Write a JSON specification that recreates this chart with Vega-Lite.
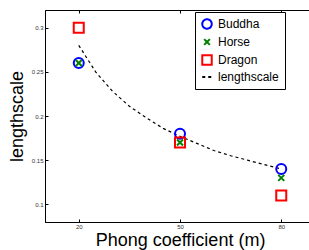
{
  "$schema": "https://vega.github.io/schema/vega-lite/v6.json",
  "width": 270,
  "height": 212,
  "autosize": {"type": "none"},
  "padding": {"left": 45, "top": 10, "right": 0, "bottom": 28},
  "background": "white",
  "config": {
    "view": {"stroke": "black", "strokeWidth": 1},
    "font": "Liberation Sans",
    "axis": {
      "grid": false,
      "domainColor": "black",
      "tickColor": "black",
      "tickSize": -3,
      "labelFontSize": 6,
      "labelColor": "#333333",
      "titleFont": "Liberation Sans",
      "titleFontSize": 18,
      "titleFontWeight": "normal",
      "titleColor": "black"
    }
  },
  "resolve": {"axis": {"x": "independent"}},
  "datasets": {
    "pts": [
      {"m": 20, "value": 0.26, "series": "Buddha"},
      {"m": 50, "value": 0.18, "series": "Buddha"},
      {"m": 80, "value": 0.14, "series": "Buddha"},
      {"m": 20, "value": 0.26, "series": "Horse"},
      {"m": 50, "value": 0.17, "series": "Horse"},
      {"m": 80, "value": 0.13, "series": "Horse"},
      {"m": 20, "value": 0.30, "series": "Dragon"},
      {"m": 50, "value": 0.17, "series": "Dragon"},
      {"m": 80, "value": 0.11, "series": "Dragon"}
    ],
    "curve": [
      {"m": 20, "value": 0.280, "series": "lengthscale"},
      {"m": 25, "value": 0.250, "series": "lengthscale"},
      {"m": 30, "value": 0.228, "series": "lengthscale"},
      {"m": 35, "value": 0.211, "series": "lengthscale"},
      {"m": 40, "value": 0.198, "series": "lengthscale"},
      {"m": 45, "value": 0.186, "series": "lengthscale"},
      {"m": 50, "value": 0.177, "series": "lengthscale"},
      {"m": 55, "value": 0.169, "series": "lengthscale"},
      {"m": 60, "value": 0.161, "series": "lengthscale"},
      {"m": 65, "value": 0.155, "series": "lengthscale"},
      {"m": 70, "value": 0.150, "series": "lengthscale"},
      {"m": 75, "value": 0.145, "series": "lengthscale"},
      {"m": 80, "value": 0.140, "series": "lengthscale"}
    ]
  },
  "layer": [
    {
      "data": {"name": "curve"},
      "mark": {"type": "line", "strokeWidth": 1.2},
      "encoding": {
        "x": {
          "field": "m", "type": "quantitative",
          "scale": {"domain": [10, 90], "nice": false, "zero": false},
          "axis": {"values": [20, 50, 80], "title": "Phong coefficient (m)", "labelPadding": 4, "titlePadding": 2}
        },
        "y": {
          "field": "value", "type": "quantitative",
          "scale": {"domain": [0.08, 0.32], "nice": false, "zero": false},
          "axis": {"values": [0.1, 0.15, 0.2, 0.25, 0.3], "format": "~g", "title": "lengthscale", "labelPadding": 5, "titlePadding": 5}
        },
        "color": {
          "field": "series", "type": "nominal",
          "scale": {"domain": ["Buddha", "Horse", "Dragon", "lengthscale"], "range": ["#0000ff", "#008000", "#ff0000", "black"]},
          "legend": {
            "title": null,
            "orient": "none",
            "legendX": 150,
            "legendY": 2,
            "strokeColor": "black",
            "fillColor": "white",
            "padding": 6,
            "labelFontSize": 12,
            "labelColor": "black",
            "labelFont": "Liberation Sans",
            "symbolSize": 90,
            "symbolStrokeWidth": 2,
            "rowPadding": 2,
            "labelOffset": 5
          }
        },
        "strokeDash": {
          "field": "series", "type": "nominal",
          "scale": {"domain": ["Buddha", "Horse", "Dragon", "lengthscale"], "range": [[1, 0], [1, 0], [1, 0], [3, 3]]},
          "legend": {
            "title": null,
            "orient": "none",
            "legendX": 150,
            "legendY": 2
          }
        }
      }
    },
    {
      "data": {"name": "pts"},
      "mark": {"type": "point", "filled": false, "strokeWidth": 2, "size": 100, "opacity": 1},
      "encoding": {
        "x": {
          "field": "m", "type": "quantitative",
          "axis": {"orient": "top", "values": [20, 50, 80], "labels": false, "title": null, "domain": false}
        },
        "y": {"field": "value", "type": "quantitative"},
        "color": {"field": "series", "type": "nominal"},
        "shape": {
          "field": "series", "type": "nominal",
          "scale": {"domain": ["Buddha", "Horse", "Dragon", "lengthscale"], "range": ["circle", "M-0.6,-0.6L0.6,0.6M-0.6,0.6L0.6,-0.6", "square", "stroke"]},
          "legend": {
            "title": null,
            "orient": "none",
            "legendX": 150,
            "legendY": 2
          }
        }
      }
    }
  ]
}
